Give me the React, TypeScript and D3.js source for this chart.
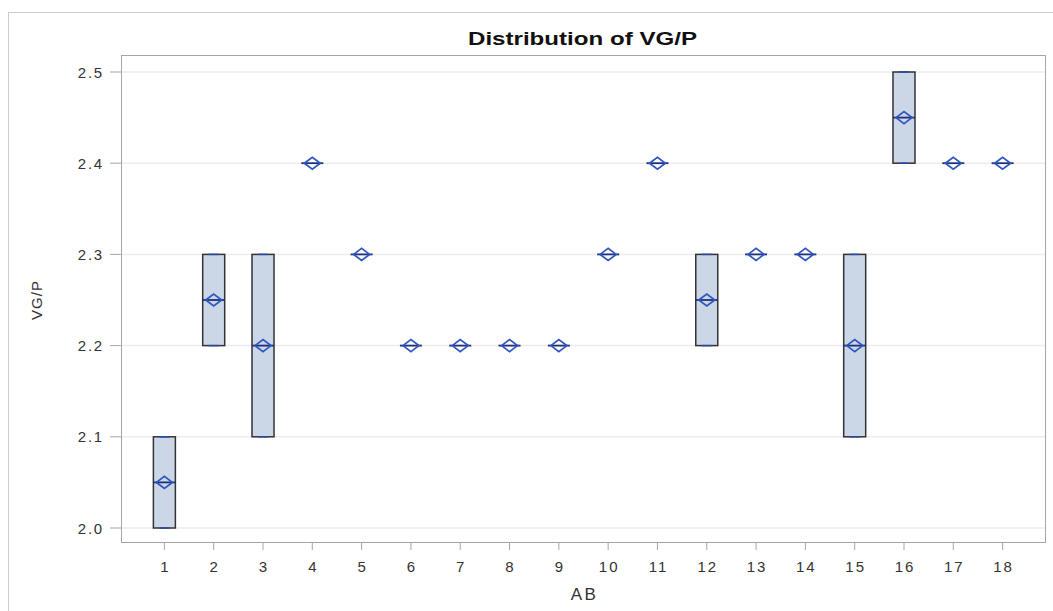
import React, { useEffect, useRef } from 'react';
import * as d3 from 'd3';

// AB groups and the VG/P summary values
const categories = ['1', '2', '3', '4', '5', '6', '7', '8', '9', '10', '11', '12', '13', '14', '15', '16', '17', '18'];
const q1Values = [2.0, 2.2, 2.1, 2.4, 2.3, 2.2, 2.2, 2.2, 2.2, 2.3, 2.4, 2.2, 2.3, 2.3, 2.1, 2.4, 2.4, 2.4];
const q3Values = [2.1, 2.3, 2.3, 2.4, 2.3, 2.2, 2.2, 2.2, 2.2, 2.3, 2.4, 2.3, 2.3, 2.3, 2.3, 2.5, 2.4, 2.4];
const medianValues = [2.05, 2.25, 2.2, 2.4, 2.3, 2.2, 2.2, 2.2, 2.2, 2.3, 2.4, 2.25, 2.3, 2.3, 2.2, 2.45, 2.4, 2.4];
const meanValues = [2.05, 2.25, 2.2, 2.4, 2.3, 2.2, 2.2, 2.2, 2.2, 2.3, 2.4, 2.25, 2.3, 2.3, 2.2, 2.45, 2.4, 2.4];
const yTicks = [2.0, 2.1, 2.2, 2.3, 2.4, 2.5];

const App = () => {
  const ref = useRef<SVGSVGElement>(null);
  const W = 1053;
  const H = 611;
  const margin = { top: 55, right: 7, bottom: 68, left: 121 };

  useEffect(() => {
    const svg = d3.select(ref.current);
    svg.selectAll('*').remove();
    const font = 'Arial, "Liberation Sans", sans-serif';
    const innerW = W - margin.left - margin.right;
    const innerH = H - margin.top - margin.bottom;

    // outer frame
    svg.append('rect')
      .attr('x', 8.5).attr('y', 12.5)
      .attr('width', W + 20).attr('height', H + 20)
      .attr('fill', 'white').attr('stroke', '#cccccc');

    const g = svg.append('g').attr('transform', `translate(${margin.left},${margin.top})`);

    const x = d3.scalePoint<string>().domain(categories).range([0, innerW]).padding(0.88);
    const y = d3.scaleLinear().domain([2.0, 2.5]).range([473, 17]);

    // grid
    g.selectAll('.grid').data(yTicks).enter().append('line')
      .attr('x1', 1).attr('x2', innerW - 1)
      .attr('y1', d => y(d)).attr('y2', d => y(d))
      .attr('stroke', '#ececec').attr('stroke-width', 1.5);

    // plot frame
    g.append('rect')
      .attr('x', 0.5).attr('y', 0.5)
      .attr('width', innerW - 1).attr('height', innerH - 1)
      .attr('fill', 'none').attr('stroke', '#a5a5a5');

    // y axis ticks + labels
    const ya = g.append('g');
    ya.selectAll('line').data(yTicks).enter().append('line')
      .attr('x1', -11).attr('x2', 0)
      .attr('y1', d => y(d)).attr('y2', d => y(d))
      .attr('stroke', '#a5a5a5');
    ya.selectAll('text').data(yTicks).enter().append('text')
      .attr('x', -17).attr('y', d => y(d) + 5.5)
      .attr('text-anchor', 'end')
      .attr('font-family', font).attr('font-size', 15).attr('letter-spacing', 1.8)
      .attr('fill', '#333')
      .text(d => d.toFixed(1));

    // x axis ticks + labels
    const xa = g.append('g');
    xa.selectAll('line').data(categories).enter().append('line')
      .attr('x1', d => x(d)!).attr('x2', d => x(d)!)
      .attr('y1', innerH).attr('y2', innerH + 7)
      .attr('stroke', '#a5a5a5');
    xa.selectAll('text').data(categories).enter().append('text')
      .attr('x', d => x(d)! + 1).attr('y', innerH + 29)
      .attr('text-anchor', 'middle')
      .attr('font-family', font).attr('font-size', 15).attr('letter-spacing', 2)
      .attr('fill', '#333')
      .text(d => d);

    const bw = 22;
    const rows = categories.map((c, i) => ({ c, q1: q1Values[i], q3: q3Values[i], med: medianValues[i], mean: meanValues[i] }));

    const boxes = g.selectAll('.box').data(rows).enter().append('g');
    boxes.filter(d => d.q3 > d.q1).append('rect')
      .attr('x', d => x(d.c)! - bw / 2).attr('y', d => y(d.q3))
      .attr('width', bw).attr('height', d => y(d.q1) - y(d.q3))
      .attr('fill', '#cbd6e6').attr('stroke', '#333').attr('stroke-width', 1.5);
    // whisker caps at box ends
    boxes.filter(d => d.q3 > d.q1).selectAll('.cap').data(d => [{ c: d.c, v: d.q1 }, { c: d.c, v: d.q3 }]).enter().append('line')
      .attr('x1', d => x(d.c)! - 5).attr('x2', d => x(d.c)! + 5)
      .attr('y1', d => y(d.v)).attr('y2', d => y(d.v))
      .attr('stroke', '#2a49a8').attr('stroke-width', 1.5);
    // median line
    boxes.append('line')
      .attr('x1', d => x(d.c)! - bw / 2).attr('x2', d => x(d.c)! + bw / 2)
      .attr('y1', d => y(d.med)).attr('y2', d => y(d.med))
      .attr('stroke', '#1e2f78').attr('stroke-width', 1.8);
    // mean diamond
    boxes.append('path')
      .attr('d', d => {
        const cx = x(d.c)!, cy = y(d.mean);
        return `M${cx - 8},${cy}L${cx},${cy - 6}L${cx + 8},${cy}L${cx},${cy + 6}Z`;
      })
      .attr('fill', 'none').attr('stroke', '#2f55c0').attr('stroke-width', 1.7);

    // titles
    svg.append('text')
      .attr('x', 468).attr('y', 45)
      .attr('textLength', 229).attr('lengthAdjust', 'spacingAndGlyphs')
      .attr('font-family', font).attr('font-size', 18).attr('font-weight', 'bold')
      .attr('fill', '#111')
      .text('Distribution of VG/P');
    svg.append('text')
      .attr('x', margin.left + innerW / 2 + 1).attr('y', 600)
      .attr('text-anchor', 'middle')
      .attr('font-family', font).attr('font-size', 17).attr('letter-spacing', 2.5)
      .attr('fill', '#333')
      .text('AB');
    svg.append('text')
      .attr('transform', `translate(42,300) rotate(-90)`)
      .attr('text-anchor', 'middle')
      .attr('font-family', font).attr('font-size', 15).attr('letter-spacing', 1)
      .attr('fill', '#333')
      .text('VG/P');
  }, []);

  return (
    <div style={{ position: 'absolute', left: 0, top: 0 }}>
      <svg ref={ref} width={W} height={H} style={{ display: 'block', background: 'white' }} />
    </div>
  );
};

export default App;
